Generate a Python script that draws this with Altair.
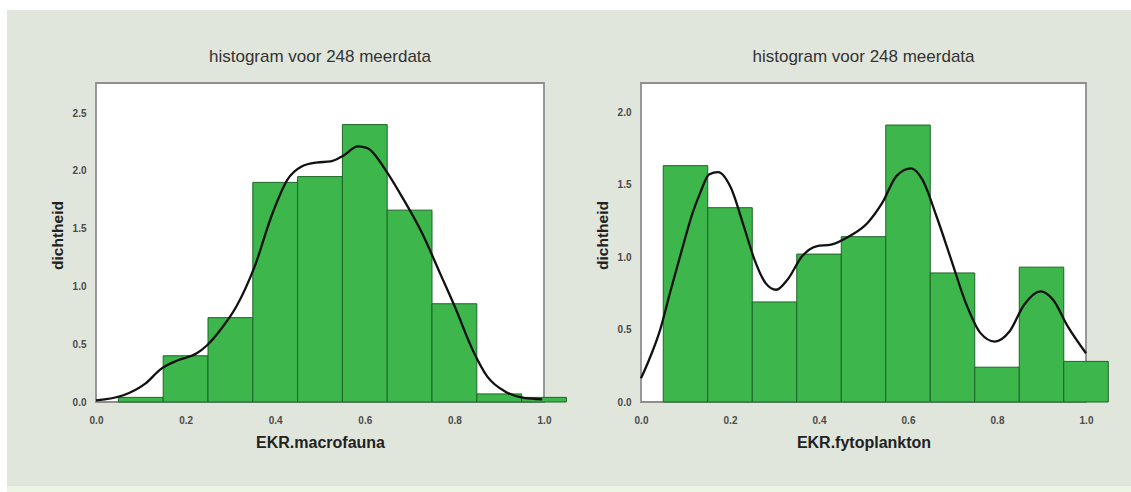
import altair as alt
import pandas as pd

TITLE = "histogram voor 248 meerdata"

# histogram bins (width 0.1, breaks from 0.05 to 1.05)
bin_start = [0.05, 0.15, 0.25, 0.35, 0.45, 0.55, 0.65, 0.75, 0.85, 0.95]
bin_end = [0.15, 0.25, 0.35, 0.45, 0.55, 0.65, 0.75, 0.85, 0.95, 1.05]

# density per bin
macro_density = [0.04, 0.40, 0.73, 1.90, 1.95, 2.40, 1.66, 0.85, 0.07, 0.04]
fyto_density = [1.63, 1.34, 0.69, 1.02, 1.14, 1.91, 0.89, 0.24, 0.93, 0.28]

# kernel density curves
macro_curve_x = [0.0, 0.061, 0.110, 0.146, 0.183, 0.224, 0.248, 0.280, 0.313, 0.354,
                 0.394, 0.427, 0.459, 0.492, 0.524, 0.549, 0.585, 0.606, 0.646, 0.687,
                 0.728, 0.768, 0.801, 0.841, 0.874, 0.915, 0.955, 0.996]
macro_curve_y = [0.014, 0.058, 0.159, 0.289, 0.361, 0.419, 0.491, 0.636, 0.824, 1.171,
                 1.633, 1.922, 2.038, 2.072, 2.081, 2.124, 2.211, 2.197, 2.009, 1.749,
                 1.460, 1.113, 0.824, 0.448, 0.217, 0.087, 0.035, 0.023]

fyto_curve_x = [0.0, 0.018, 0.043, 0.067, 0.092, 0.116, 0.133, 0.153, 0.173, 0.202,
                0.231, 0.255, 0.280, 0.304, 0.329, 0.362, 0.394, 0.427, 0.468, 0.509,
                0.542, 0.574, 0.607, 0.632, 0.664, 0.697, 0.730, 0.763, 0.795, 0.828,
                0.861, 0.898, 0.926, 0.959, 1.0]
fyto_curve_y = [0.164, 0.290, 0.498, 0.774, 1.051, 1.304, 1.442, 1.569, 1.585, 1.477,
                1.212, 0.982, 0.820, 0.774, 0.843, 1.005, 1.074, 1.085, 1.143, 1.235,
                1.373, 1.558, 1.611, 1.535, 1.281, 0.982, 0.682, 0.475, 0.417, 0.486,
                0.671, 0.763, 0.705, 0.521, 0.336]

x_ticks = [0.0, 0.2, 0.4, 0.6, 0.8, 1.0]
macro_y_ticks = [0.0, 0.5, 1.0, 1.5, 2.0, 2.5]
fyto_y_ticks = [0.0, 0.5, 1.0, 1.5, 2.0]

FONT = "Liberation Sans"
PANEL_BG = "#e1e6dc"
STRIP_BG = "#ecf4e4"
BAR_FILL = "#3db64b"
BAR_EDGE = "#1d6428"
FRAME = "#8e8e8e"
H = 319


def panel(density, cx, cy, xtitle, ymax, yticks, width, left_ext, right_ext):
    bars = pd.DataFrame({"start": bin_start, "end": bin_end, "density": density})
    curve = pd.DataFrame({"x": cx, "y": cy})
    one = pd.DataFrame({"k": [0]})

    xscale = alt.Scale(domain=[0, 1], nice=False, zero=False)
    yscale = alt.Scale(domain=[0, ymax], nice=False, zero=True)
    xaxis = alt.Axis(values=x_ticks, format=".1f", ticks=False, domain=False, grid=False,
                     labelFlush=False, labelPadding=13, titlePadding=9,
                     titleFontSize=16, zindex=2)
    yaxis = alt.Axis(values=yticks, format=".1f", ticks=False, domain=False, grid=False,
                     labelFlush=False, labelPadding=10, titlePadding=7, titleY=152,
                     titleFontSize=15.5, zindex=2)

    # panel background, lighter bottom strip and the framed white plotting box
    backdrop = alt.Chart(one).mark_rect(color=PANEL_BG).encode(
        x=alt.value(-left_ext), x2=alt.value(width + right_ext),
        y=alt.value(-73), y2=alt.value(H + 84),
    )
    strip = alt.Chart(one).mark_rect(color=STRIP_BG).encode(
        x=alt.value(-left_ext), x2=alt.value(width + right_ext),
        y=alt.value(H + 84), y2=alt.value(H + 90),
    )
    box = alt.Chart(one).mark_rect(fill="white", stroke=FRAME, strokeWidth=1.8).encode(
        x=alt.value(0), x2=alt.value(width), y=alt.value(0), y2=alt.value(H),
    )
    heading = alt.Chart(one).mark_text(
        text=TITLE, font=FONT, fontSize=17, color="#333333",
        align="center", baseline="middle",
    ).encode(x=alt.value(width / 2), y=alt.value(-26))

    hist = alt.Chart(bars).mark_rect(
        fill=BAR_FILL, stroke=BAR_EDGE, strokeWidth=1, clip=False
    ).encode(
        x=alt.X("start:Q", scale=xscale, title=xtitle, axis=xaxis),
        x2="end:Q",
        y=alt.Y("density:Q", scale=yscale, title="dichtheid", axis=yaxis),
        y2=alt.datum(0),
    )
    line = alt.Chart(curve).mark_line(
        color="#111111", strokeWidth=2.3, interpolate="monotone", clip=False
    ).encode(
        x=alt.X("x:Q", scale=xscale, title=xtitle, axis=xaxis),
        y=alt.Y("y:Q", scale=yscale, title="dichtheid", axis=yaxis),
    )
    return alt.layer(backdrop, strip, box, heading, hist, line).properties(
        width=width, height=H,
    )


left = panel(macro_density, macro_curve_x, macro_curve_y, "EKR.macrofauna",
             2.76, macro_y_ticks, 448, 89, 36)
right = panel(fyto_density, fyto_curve_x, fyto_curve_y, "EKR.fytoplankton",
              2.2, fyto_y_ticks, 445, 61, 45)

chart = alt.hconcat(left, right, spacing=97, bounds="flush").properties(
    padding={"left": 7, "top": 10, "right": 0, "bottom": 0},
    background="white",
).configure_view(strokeWidth=0).configure_axis(
    labelFont=FONT, labelFontSize=10, labelFontWeight="bold", labelColor="#4a4a4a",
    titleFont=FONT, titleFontWeight="bold", titleColor="#222222",
)

chart.save("out.html", embed_options={"renderer": "svg", "actions": False})
